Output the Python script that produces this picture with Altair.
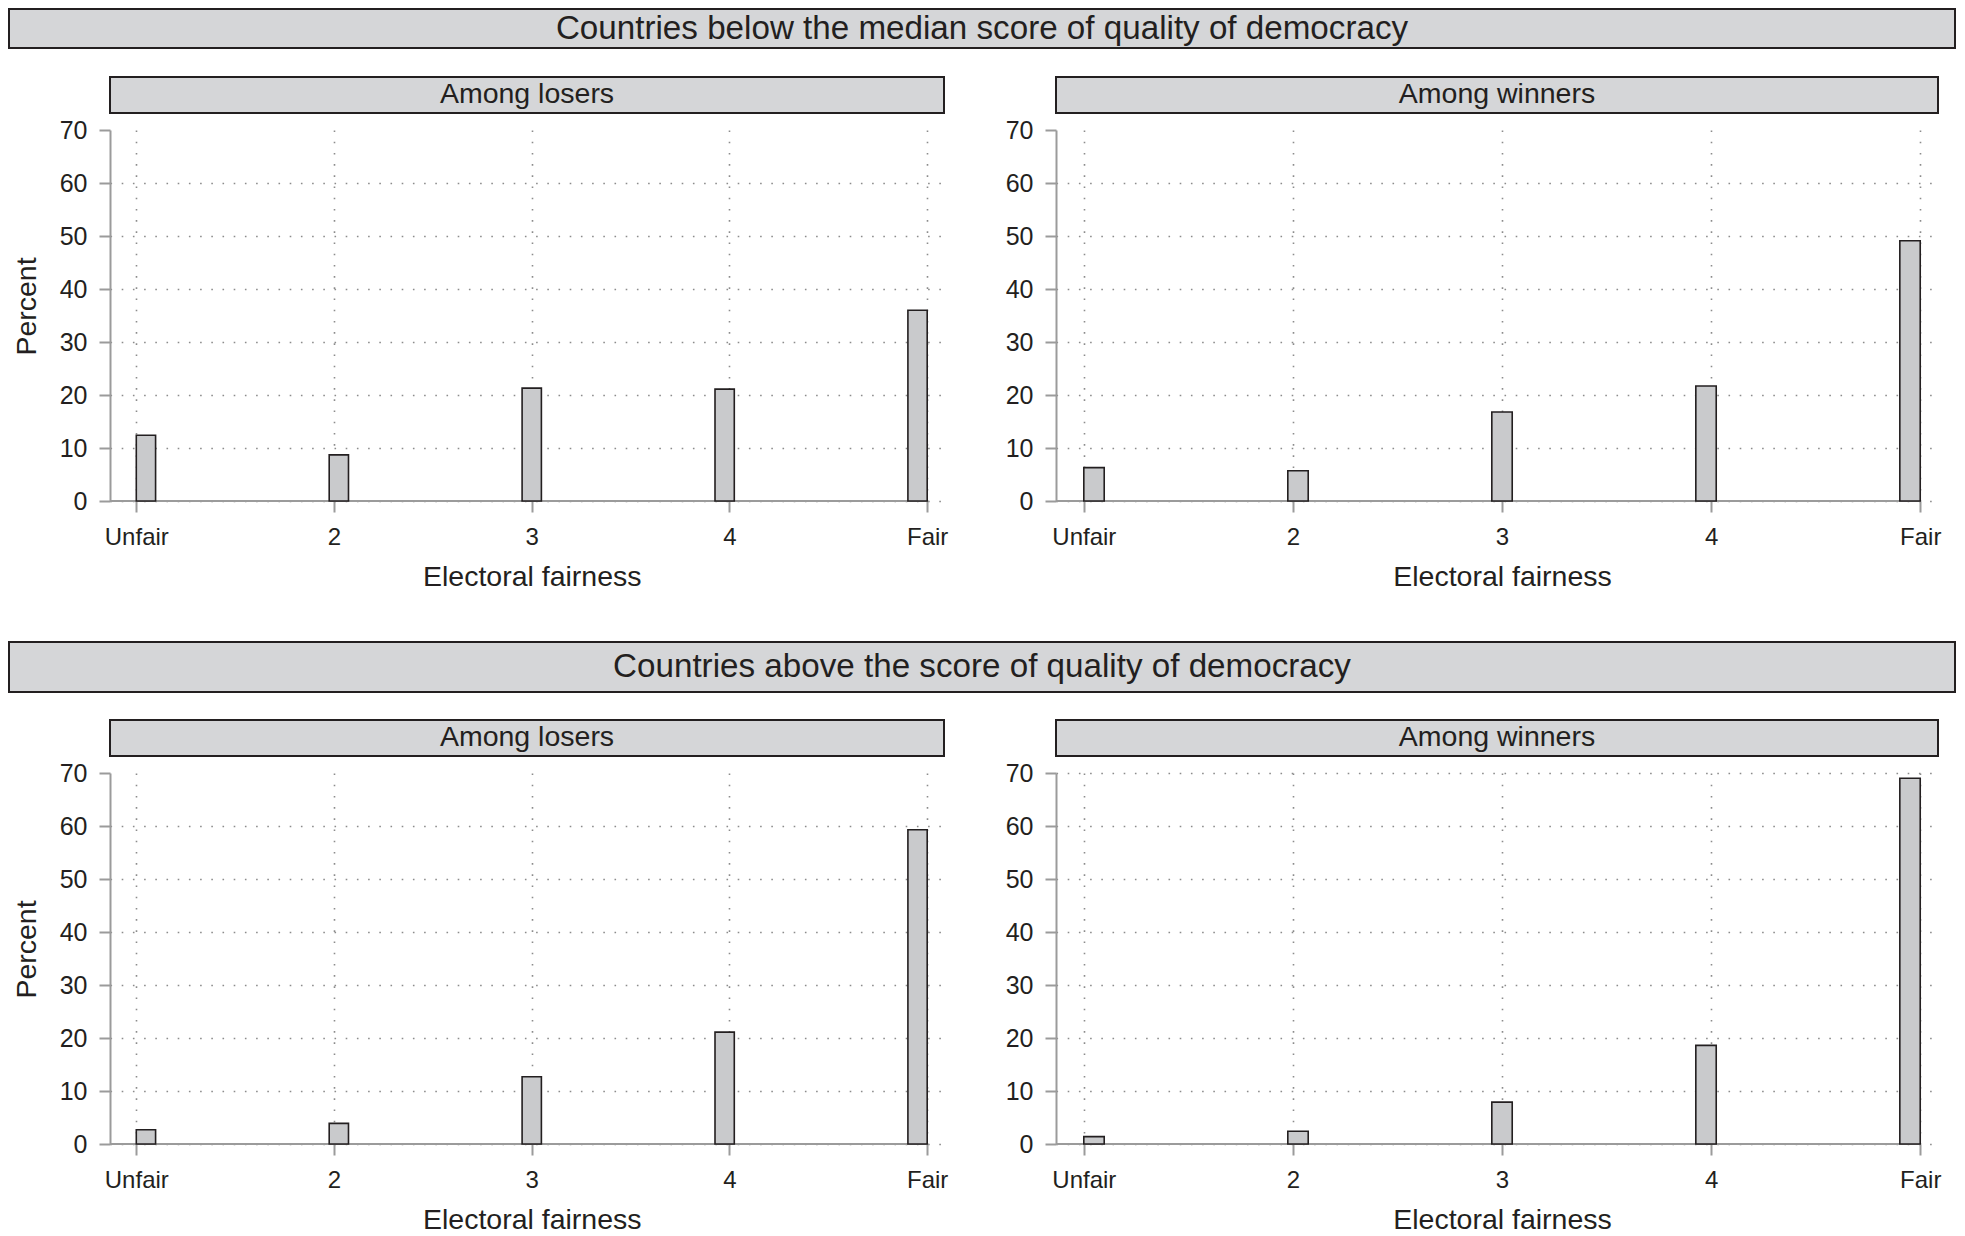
import math
import altair as alt
import pandas as pd

# ---------------- data ----------------
levels = [1, 2, 3, 4, 5]
level_labels = ["Unfair", "2", "3", "4", "Fair"]

below_losers = [12.4, 8.7, 21.3, 21.1, 36.0]
below_winners = [6.3, 5.7, 16.8, 21.7, 49.1]
above_losers = [2.7, 3.9, 12.7, 21.1, 59.3]
above_winners = [1.4, 2.4, 7.9, 18.6, 69.0]

group_titles = [
    "Countries below the median score of quality of democracy",
    "Countries above the score of quality of democracy",
]
panel_titles = ["Among losers", "Among winners"]
y_ticks = [0, 10, 20, 30, 40, 50, 60, 70]
n_bins = 41  # histogram bins between the lowest and highest level

# ---------------- style ----------------
FONT = "Liberation Sans"
TEXT = "#231f20"
AXIS_GRAY = "#9b9b9b"
GRID_GRAY = "#8c8c8c"
STRIP_FILL = "#d5d6d8"
BAR_FILL = "#c9cacc"
EDGE = "#231f20"

X_MIN, X_MAX = 0.867, 5.085
W_LEFT, W_RIGHT, H = 834, 882, 371

label_expr = "".join(
    f"datum.value == {lv} ? '{lab}' : " for lv, lab in zip(levels, level_labels)
) + "datum.label"

NO_VIEW = alt.ViewBackground(stroke="transparent", strokeWidth=0)


def hist_frame(values):
    lo, hi = levels[0], levels[-1]
    w = (hi - lo) / n_bins
    rows = []
    for lv, lab, v in zip(levels, level_labels, values):
        k = min(int(math.floor((lv - lo) / w + 1e-9)), n_bins - 1)
        rows.append({"level": lab, "pct": v, "x0": lo + k * w, "x1": lo + (k + 1) * w})
    return pd.DataFrame(rows)


def panel(values, strip_title, width, show_ytitle, banner=None, grid_top=False):
    df = hist_frame(values)
    x_scale = alt.Scale(domain=[X_MIN, X_MAX], nice=False, zero=False)
    y_scale = alt.Scale(domain=[0, 70], nice=False, zero=True)
    title_x = (3 - X_MIN) / (X_MAX - X_MIN) * width

    x_axis = alt.Axis(
        values=levels, labelExpr=label_expr, domain=False,
        ticks=True, tickSize=11, tickColor=AXIS_GRAY, tickWidth=2,
        labelFont=FONT, labelFontSize=24, labelColor=TEXT,
        labelBaseline="alphabetic", labelPadding=32, labelFlush=False,
        labelOverlap=False,
        grid=True, gridColor=GRID_GRAY, gridDash=[1.6, 9.6], gridWidth=1.6,
        titleFont=FONT, titleFontSize=28.5, titleFontWeight="normal",
        titleColor=TEXT, titleX=title_x, titleY=84, titleBaseline="alphabetic",
        titleAlign="center",
    )
    y_kwargs = dict(
        values=y_ticks, domain=True, domainColor=AXIS_GRAY, domainWidth=2,
        ticks=True, tickSize=11, tickColor=AXIS_GRAY, tickWidth=2,
        labelFont=FONT, labelFontSize=25, labelColor=TEXT, labelPadding=12,
        labelFlush=False, labelOverlap=False,
        grid=True, gridColor=GRID_GRAY, gridDash=[1.6, 9.6], gridWidth=1.6,
        titleFont=FONT, titleFontSize=28.5, titleFontWeight="normal",
        titleColor=TEXT, titleX=-75, titleY=176, titleAngle=270,
        titleBaseline="alphabetic", titleAlign="center",
    )
    if not grid_top:
        y_kwargs["gridOpacity"] = {"condition": {"test": "datum.value >= 70", "value": 0}, "value": 1}
    y_axis = alt.Axis(**y_kwargs)

    base_line = alt.Chart(df).mark_rule(color=AXIS_GRAY, strokeWidth=2).encode(
        x=alt.XDatum(X_MIN, scale=x_scale),
        x2=alt.X2Datum(levels[-1]),
        y=alt.YDatum(0, scale=y_scale),
    )
    bars = alt.Chart(df).mark_rect(fill=BAR_FILL, stroke=EDGE, strokeWidth=1.6).encode(
        x=alt.X("x0:Q", scale=x_scale, axis=x_axis, title="Electoral fairness"),
        x2="x1:Q",
        y=alt.Y("pct:Q", scale=y_scale, axis=y_axis,
                title="Percent" if show_ytitle else ""),
        y2=alt.Y2Datum(0),
    )

    strip_df = pd.DataFrame({"label": [strip_title]})
    strip_box = alt.Chart(strip_df).mark_rect(fill=STRIP_FILL, stroke=EDGE, strokeWidth=2).encode(
        x=alt.value(0), x2=alt.value(width), y=alt.value(-53), y2=alt.value(-17)
    )
    strip_text = alt.Chart(strip_df).mark_text(
        font=FONT, fontSize=28.5, color=TEXT, align="center", baseline="alphabetic"
    ).encode(x=alt.value(width / 2), y=alt.value(-27), text="label:N")

    layers = [base_line, bars, strip_box, strip_text]

    if banner is not None:
        btitle, top, bottom, base = banner
        bdf = pd.DataFrame({"label": [btitle]})
        bbox = alt.Chart(bdf).mark_rect(fill=STRIP_FILL, stroke=EDGE, strokeWidth=2).encode(
            x=alt.value(-101), x2=alt.value(1845), y=alt.value(top), y2=alt.value(bottom)
        )
        btext = alt.Chart(bdf).mark_text(
            font=FONT, fontSize=33.2, color=TEXT, align="center", baseline="alphabetic"
        ).encode(x=alt.value(872), y=alt.value(base), text="label:N")
        layers += [bbox, btext]

    layers = [l.properties(view=NO_VIEW) for l in layers]
    return alt.layer(*layers).properties(width=width, height=H, view=NO_VIEW)


tl = panel(below_losers, panel_titles[0], W_LEFT, True,
           banner=(group_titles[0], -121, -82, -91))
tr = panel(below_winners, panel_titles[1], W_RIGHT, False)
bl = panel(above_losers, panel_titles[0], W_LEFT, True,
           banner=(group_titles[1], -131, -81, -96))
br = panel(above_winners, panel_titles[1], W_RIGHT, False, grid_top=True)

chart = (
    alt.concat(tl, tr, bl, br, columns=2, spacing={"row": 272, "column": 112},
               bounds="flush", align="each")
    .properties(padding=0, background="white")
    .configure_view(strokeWidth=0, stroke="transparent")
    .configure(font=FONT)
)

chart.save("out.html", embed_options={"renderer": "svg", "actions": False})
